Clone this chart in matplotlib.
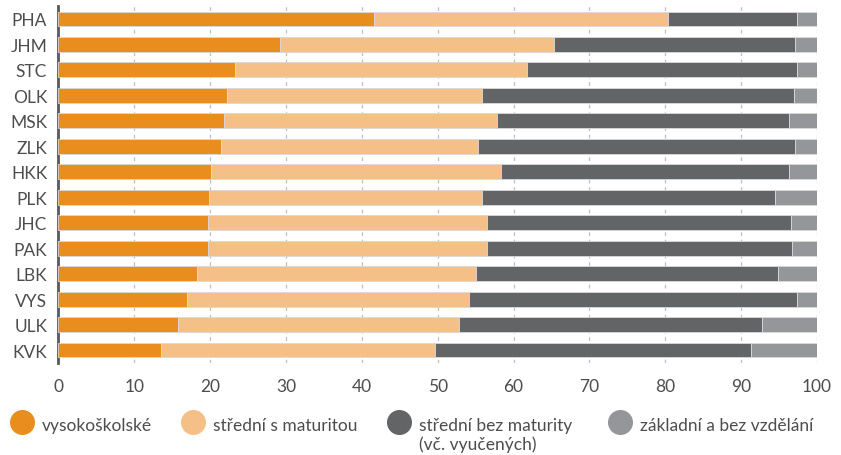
import matplotlib
matplotlib.use("Agg")
import matplotlib.pyplot as plt
from matplotlib.lines import Line2D
import numpy as np

plt.rcParams['font.family'] = ['Lato', 'DejaVu Sans']

regions = ["PHA", "JHM", "STC", "OLK", "MSK", "ZLK", "HKK",
           "PLK", "JHC", "PAK", "LBK", "VYS", "ULK", "KVK"]
vysokoskolske = [41.6, 29.2, 23.3, 22.3, 21.8, 21.5, 20.1, 19.8, 19.7, 19.7, 18.3, 16.9, 15.8, 13.5]
stredni_s_mat = [38.7, 36.1, 38.5, 33.5, 36.0, 33.8, 38.2, 36.0, 36.8, 36.8, 36.7, 37.2, 37.0, 36.1]
stredni_bez_mat = [17.1, 31.8, 35.5, 41.1, 38.5, 41.8, 38.0, 38.7, 40.1, 40.2, 39.8, 43.2, 40.0, 41.7]
zakladni = [2.6, 2.9, 2.7, 3.1, 3.7, 2.9, 3.7, 5.5, 3.4, 3.3, 5.2, 2.7, 7.2, 8.7]

labels = ["vysokoškolské", "střední s maturitou",
          "střední bez maturity\n(vč. vyučených)", "základní a bez vzdělání"]
colors = ["#E98D1E", "#F5C087", "#636466", "#959699"]
text_col = "#4d4d4f"

fig = plt.figure(figsize=(8.41, 4.56), dpi=100)
ax = fig.add_axes([0.0693, 0.2018, 0.9022, 0.7828])

y = np.arange(len(regions))
left = np.zeros(len(regions))
for vals, c in zip([vysokoskolske, stredni_s_mat, stredni_bez_mat, zakladni], colors):
    ax.barh(y, vals, left=left, height=0.57, color=c,
            edgecolor="#d9d9d9", linewidth=0.6, zorder=3)
    left += np.array(vals)

ax.set_xlim(0, 100)
ax.set_ylim(len(regions) - 0.5, -0.5)
ax.set_xticks(np.arange(0, 101, 10))
ax.set_yticks(y)
ax.set_yticklabels(regions)
ax.grid(axis='x', color="#bfbfbf", linestyle=(0, (3, 3)), linewidth=0.9, zorder=0)
ax.tick_params(axis='both', length=0, labelsize=12.5, colors=text_col)
ax.tick_params(axis='x', pad=11)
ax.tick_params(axis='y', pad=8)
for s in ['top', 'right', 'bottom']:
    ax.spines[s].set_visible(False)
ax.spines['left'].set_color("#5a5a5c")
ax.spines['left'].set_linewidth(2)

# legend, placed by hand
leg_x = [0.026, 0.229, 0.474, 0.737]
leg_y = 1 - 423 / 456
for lx, lab, c in zip(leg_x, labels, colors):
    fig.add_artist(Line2D([lx], [leg_y], marker='o', markersize=17, color=c,
                          linestyle='none', transform=fig.transFigure))
    fig.text(lx + 0.024, leg_y + 0.011, lab, ha='left', va='top',
             fontsize=12.5, color=text_col, linespacing=1.15)

fig.savefig("out.png", dpi=100)
